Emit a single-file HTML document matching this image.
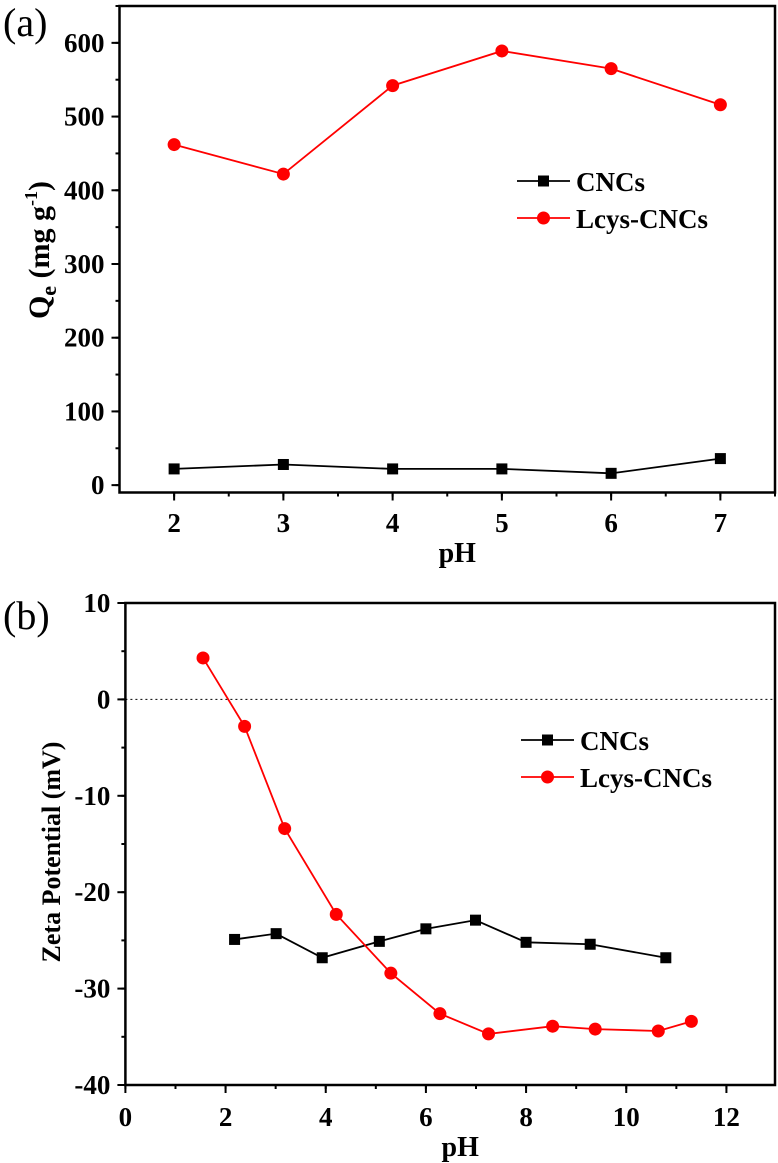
<!DOCTYPE html>
<html><head><meta charset="utf-8"><style>
html,body{margin:0;padding:0;background:#fff;}
svg{display:block;}
svg text{font-family:"Liberation Serif","Times New Roman",serif;}
</style></head><body>
<svg id="c" width="778" height="1163" viewBox="0 0 778 1163"></svg>
<script>
const aX=[2,3,4,5,6,7];
const aCNC=[22,28,22,22,16,36];
const aLcys=[462,422,542,589,565,516];
const aXTicks=[2,3,4,5,6,7];
const aYTicks=[0,100,200,300,400,500,600];
const bCNCx=[2.18,3.01,3.93,5.07,6.0,6.99,8.0,9.28,10.79];
const bCNCy=[-24.9,-24.3,-26.8,-25.1,-23.8,-22.9,-25.2,-25.4,-26.8];
const bLx=[1.55,2.38,3.18,4.21,5.30,6.28,7.25,8.53,9.38,10.64,11.30];
const bLy=[4.3,-2.8,-13.4,-22.3,-28.4,-32.6,-34.7,-33.9,-34.2,-34.4,-33.4];
const bXTicks=[0,2,4,6,8,10,12];
const bYTicks=[10,0,-10,-20,-30,-40];
const NS="http://www.w3.org/2000/svg";
const svg=document.getElementById('c');
function el(t,a,p){const e=document.createElementNS(NS,t);for(const k in a)e.setAttribute(k,a[k]);(p||svg).appendChild(e);return e;}
function panel(cfg){
  const g=el('g',{});
  
  
  const {L,R,T,B,x0,x1,y0,y1}=cfg;
  const sx=v=>L+(v-x0)/(x1-x0)*(R-L);
  const sy=v=>B-(v-y0)/(y1-y0)*(B-T);
  const fr=el('rect',{x:L,y:T,width:R-L,height:B-T,fill:'none',stroke:'#000','stroke-width':2.5},g);
  
  for(let v=cfg.xmin0;v<=x1+1e-9;v+=cfg.xminor){const x=sx(v);el('line',{x1:x,x2:x,y1:B,y2:B+4,stroke:'#000','stroke-width':2},g);}
  for(let v=cfg.ymin0;v<=y1+1e-9;v+=cfg.yminor){const y=sy(v);el('line',{x1:L-4,x2:L,y1:y,y2:y,stroke:'#000','stroke-width':2},g);}
  cfg.xt.forEach(v=>{const x=sx(v);el('line',{x1:x,x2:x,y1:B,y2:B+8,stroke:'#000','stroke-width':2},g);
    const t=el('text',{x:x,y:cfg.xly,'text-anchor':'middle','font-size':27,'font-weight':'bold'},g);t.textContent=v;
    });
  cfg.yt.forEach(v=>{const y=sy(v);el('line',{x1:L-8,x2:L,y1:y,y2:y,stroke:'#000','stroke-width':2},g);
    const t=el('text',{x:L-15,y:y+9,'text-anchor':'end','font-size':27,'font-weight':'bold'},g);t.textContent=v;
    });
  if(cfg.zero){const z=el('line',{x1:L,x2:R,y1:sy(0),y2:sy(0),stroke:'#000','stroke-width':1,'stroke-dasharray':'2,3'},g);
    }
  cfg.series.forEach(s=>{
    const pts=s.x.map((v,i)=>sx(v)+','+sy(s.y[i])).join(' ');
    const pl=el('polyline',{points:pts,fill:'none',stroke:s.c,'stroke-width':1.8},g);
    
    s.x.forEach((v,i)=>{let m;const x=sx(v),y=sy(s.y[i]);
      if(s.sq)m=el('rect',{x:x-5.5,y:y-5.5,width:11,height:11,fill:s.c},g);
      else m=el('circle',{cx:x,cy:y,r:6.5,fill:s.c},g);
      });
  });
  const lg=el('g',{},g);
  cfg.series.forEach((s,i)=>{const y=cfg.legY[i];
    el('line',{x1:cfg.legX,x2:cfg.legX+53,y1:y,y2:y,stroke:s.c,'stroke-width':1.8},lg);
    if(s.sq)el('rect',{x:cfg.legX+21,y:y-5.5,width:11,height:11,fill:s.c},lg);else el('circle',{cx:cfg.legX+26.5,cy:y,r:6.5,fill:s.c},lg);
    const t=el('text',{x:cfg.legX+59,y:y+10,'font-size':27,'font-weight':'bold'},lg);t.textContent=s.label;
    });
  const xt=el('text',{x:(L+R)/2+10,y:cfg.xty,'text-anchor':'middle','font-size':28,'font-weight':'bold'},g);xt.textContent='pH';
  
  const pl=el('text',{x:3,y:cfg.ply,'font-size':40},g);pl.textContent=cfg.plab;
  
  return {g,sx,sy};
}
const pa=panel({name:'panel-a',L:119.5,R:775,T:6,B:492.5,x0:1.5,x1:7.5,y0:-10,y1:650,xt:aXTicks,yt:aYTicks,
  xmin0:2,xminor:0.5,ymin0:0,yminor:50,xly:532,xty:562,plab:'(a)',ply:36,legX:517,legY:[181,218],
  series:[{x:aX,y:aCNC,c:'#000',sq:true,n:'cncs',label:'CNCs'},{x:aX,y:aLcys,c:'#f00',sq:false,n:'lcys-cncs',label:'Lcys-CNCs'}]});
const ya=el('text',{transform:'translate(49,250) rotate(-90)','text-anchor':'middle','font-size':30,'font-weight':'bold'},pa.g);
ya.innerHTML='Q<tspan font-size="22" dy="7">e</tspan><tspan dy="-7"> (mg g</tspan><tspan font-size="18" dy="-12">-1</tspan><tspan dy="12">)</tspan>';

const pb=panel({name:'panel-b',L:125.4,R:775,T:603,B:1085,x0:0,x1:12.97,y0:-40,y1:10,xt:bXTicks,yt:bYTicks,
  xmin0:0,xminor:1,ymin0:-40,yminor:5,xly:1126,xty:1156,plab:'(b)',ply:629,legX:521,legY:[740,777],zero:true,
  series:[{x:bCNCx,y:bCNCy,c:'#000',sq:true,n:'cncs',label:'CNCs'},{x:bLx,y:bLy,c:'#f00',sq:false,n:'lcys-cncs',label:'Lcys-CNCs'}]});
const yb=el('text',{transform:'translate(60,852) rotate(-90)','text-anchor':'middle','font-size':26,'font-weight':'bold'},pb.g);
yb.textContent='Zeta Potential (mV)';

</script>
</body></html>
